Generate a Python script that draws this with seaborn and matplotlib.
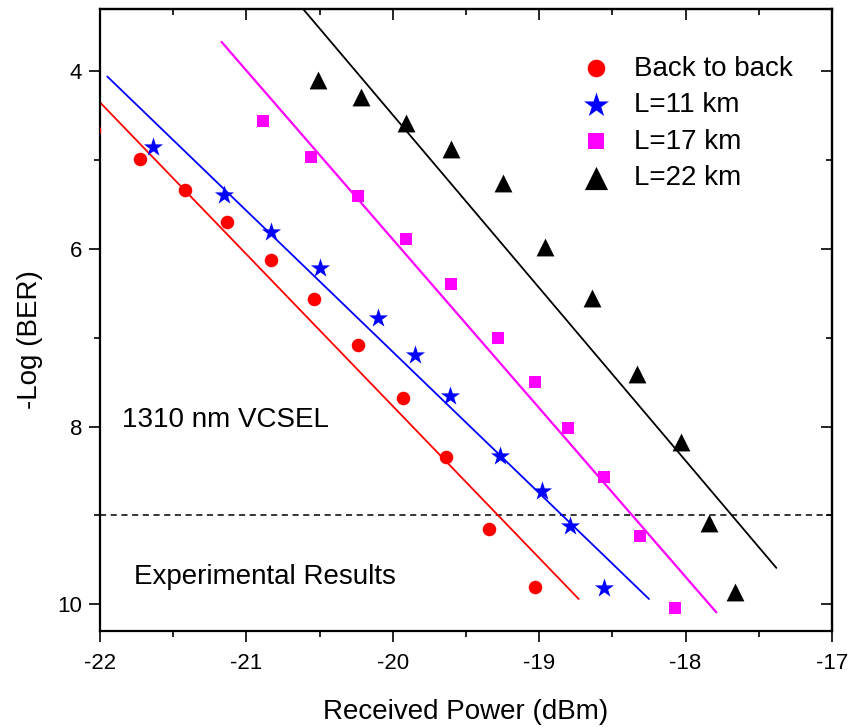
import matplotlib
matplotlib.use("Agg")
import matplotlib.pyplot as plt
import seaborn as sns
import numpy as np
import pandas as pd
from matplotlib.ticker import MultipleLocator

# ---- data ----
b2b_x = [-22.04, -21.73, -21.42, -21.13, -20.83, -20.54, -20.24, -19.93, -19.64, -19.34, -19.03]
b2b_y = [4.66, 4.99, 5.34, 5.70, 6.12, 6.56, 7.08, 7.68, 8.34, 9.15, 9.81]

l11_x = [-21.64, -21.15, -20.83, -20.50, -20.10, -19.85, -19.61, -19.27, -18.98, -18.79, -18.56]
l11_y = [4.85, 5.39, 5.81, 6.22, 6.78, 7.19, 7.66, 8.33, 8.72, 9.12, 9.82]

l17_x = [-20.89, -20.56, -20.24, -19.91, -19.60, -19.28, -19.03, -18.80, -18.56, -18.31, -18.07]
l17_y = [4.56, 4.96, 5.41, 5.89, 6.40, 7.00, 7.50, 8.02, 8.57, 9.23, 10.04]

l22_x = [-20.51, -20.22, -19.91, -19.60, -19.25, -18.96, -18.64, -18.33, -18.03, -17.84, -17.66]
l22_y = [4.10, 4.29, 4.58, 4.87, 5.26, 5.98, 6.55, 7.41, 8.17, 9.08, 9.86]

# linear-fit line endpoints (x, y)
fit_b2b_x = [-22.10, -18.73]
fit_b2b_y = [4.18, 9.94]
fit_l11_x = [-21.95, -18.25]
fit_l11_y = [4.06, 9.94]
fit_l17_x = [-21.17, -17.79]
fit_l17_y = [3.67, 10.09]
fit_l22_x = [-20.70, -17.38]
fit_l22_y = [3.13, 9.59]

labels = ["Back to back", "L=11 km", "L=17 km", "L=22 km"]
threshold = 9.0

# ---- plot ----
sns.set_style("ticks")
plt.rcParams['font.family'] = ['Liberation Sans', 'DejaVu Sans']
plt.rcParams['text.color'] = 'black'
plt.rcParams['axes.labelcolor'] = 'black'
plt.rcParams['xtick.color'] = 'black'
plt.rcParams['ytick.color'] = 'black'

fig = plt.figure(figsize=(8.51, 7.27), dpi=100)
ax = fig.add_axes([100/851, 96/727, 732/851, 622/727])

series = [
    (b2b_x, b2b_y, fit_b2b_x, fit_b2b_y, "#FF0000", "o", 95, 1.3),
    (l11_x, l11_y, fit_l11_x, fit_l11_y, "#0000FF", "*", 210, 1.3),
    (l17_x, l17_y, fit_l17_x, fit_l17_y, "#FF00FF", "s", 80, 1.6),
    (l22_x, l22_y, fit_l22_x, fit_l22_y, "#000000", "^", 165, 1.3),
]
for (xs, ys, fx, fy, c, m, s, lw), lab in zip(series, labels):
    ax.plot(fx, fy, color=c, lw=lw, zorder=2)
    df = pd.DataFrame({"x": xs, "y": ys})
    sns.scatterplot(data=df, x="x", y="y", marker=m, color=c, s=s,
                    linewidth=0, label=lab, ax=ax, zorder=3)

ax.axhline(threshold, color="black", lw=1.1, ls=(0, (4, 3)), zorder=1)

ax.set_xlim(-22, -17)
ax.set_ylim(10.3, 3.3)

ax.xaxis.set_minor_locator(MultipleLocator(0.5))
ax.yaxis.set_minor_locator(MultipleLocator(1))
ax.set_xticks([-22, -21, -20, -19, -18, -17])
ax.set_xticklabels(["-22", "-21", "-20", "-19", "-18", "-17"])
ax.set_yticks([4, 6, 8, 10])
ax.set_yticklabels(["4", "6", "8", "10"])

ax.tick_params(axis="both", which="major", direction="out", length=8, width=1.2,
               labelsize=16, color="black", labelcolor="black")
ax.tick_params(axis="both", which="minor", direction="out", length=4, width=1.2,
               color="black")
ax.tick_params(axis="x", pad=8)
ax.tick_params(axis="y", pad=5)

for sp in ax.spines.values():
    sp.set_visible(True)
    sp.set_linewidth(1.6)
    sp.set_color("black")

# inward ticks on top/right
secx = ax.secondary_xaxis("top")
secx.xaxis.set_major_locator(MultipleLocator(1))
secx.xaxis.set_minor_locator(MultipleLocator(0.5))
secx.tick_params(which="major", direction="in", length=8, width=1.2, labeltop=False)
secx.tick_params(which="minor", direction="in", length=4, width=1.2)
secx.spines["top"].set_linewidth(1.6)
secy = ax.secondary_yaxis("right")
secy.yaxis.set_major_locator(MultipleLocator(2))
secy.yaxis.set_minor_locator(MultipleLocator(1))
secy.tick_params(which="major", direction="in", length=8, width=1.2, labelright=False)
secy.tick_params(which="minor", direction="in", length=4, width=1.2)
secy.spines["right"].set_linewidth(1.6)

ax.set_xlabel("Received Power (dBm)", fontsize=20)
ax.set_ylabel("-Log (BER)", fontsize=20)
ax.xaxis.set_label_coords(0.5, -0.11)
ax.yaxis.set_label_coords(-0.078, 0.468)

ax.text(-21.85, 7.93, "1310 nm VCSEL", fontsize=20, va="center", ha="left")
ax.text(-21.77, 9.69, "Experimental Results", fontsize=20, va="center", ha="left")

leg = ax.legend(loc="upper left", bbox_to_anchor=(0.639, 0.925), frameon=False,
                fontsize=20, borderpad=0, borderaxespad=0, handlelength=2.0,
                handletextpad=0.4, labelspacing=0.38, markerscale=1.3)

fig.savefig("out.png", dpi=100)
